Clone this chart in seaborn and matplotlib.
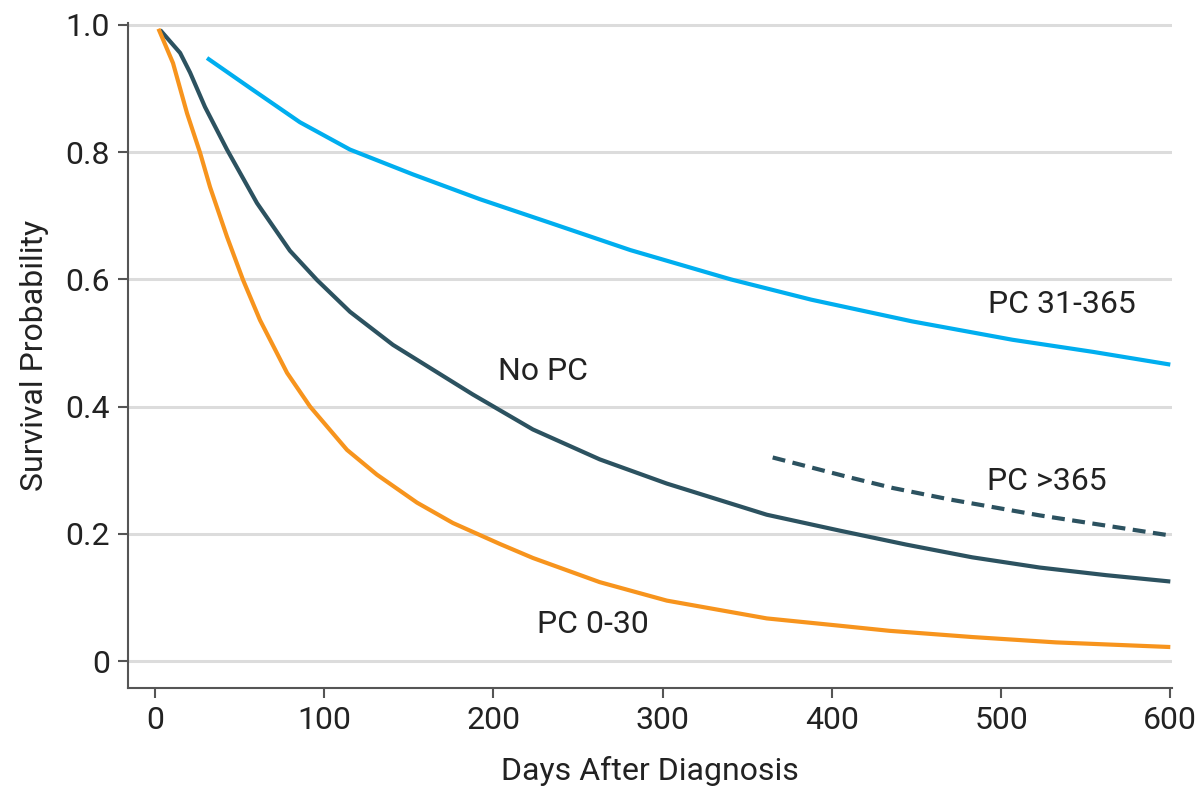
import numpy as np
import pandas as pd
import matplotlib
matplotlib.use("Agg")
import matplotlib.pyplot as plt
import seaborn as sns

# ---- data ----
nopc_days = [3, 14.8, 20.7, 29.5, 42.5, 60.2, 79.7, 95.7, 115.2, 140.6, 164.2, 187.8, 223.3,
             262.8, 302.4, 361.5, 404.6, 444, 483, 522.7, 562, 600]
nopc_surv = [0.992, 0.956, 0.925, 0.871, 0.804, 0.720, 0.645, 0.599, 0.549, 0.497, 0.458, 0.419,
             0.364, 0.317, 0.279, 0.230, 0.205, 0.183, 0.163, 0.147, 0.135, 0.125]

pc030_days = [2, 10.6, 18.9, 26.6, 32.5, 42.5, 52, 62, 78, 91.6, 113.4, 131.1, 154.8, 176, 203.8,
              223.3, 262.8, 302.4, 361.5, 404.6, 434, 483, 532.5, 600]
pc030_surv = [0.994, 0.940, 0.861, 0.799, 0.745, 0.667, 0.599, 0.536, 0.453, 0.400, 0.332, 0.293,
              0.249, 0.217, 0.184, 0.162, 0.124, 0.095, 0.067, 0.0555, 0.0475, 0.0377, 0.0293, 0.022]

pc31_days = [30.7, 56.1, 85.6, 115.2, 152.4, 192, 233.3, 280.9, 340.2, 387.9, 447.3, 506.8, 554.3, 600]
pc31_surv = [0.948, 0.901, 0.847, 0.804, 0.765, 0.726, 0.689, 0.646, 0.600, 0.568, 0.534, 0.505, 0.486, 0.466]

pc365_days = [365, 410, 436, 469.6, 522.7, 598.3]
pc365_surv = [0.320, 0.289, 0.272, 0.254, 0.229, 0.198]

x_ticks = [0, 100, 200, 300, 400, 500, 600]
y_ticks = [0, 0.2, 0.4, 0.6, 0.8, 1.0]
y_tick_labels = ["0", "0.2", "0.4", "0.6", "0.8", "1.0"]

labels = ["PC 31-365", "No PC", "PC >365", "PC 0-30"]
label_x = [536, 229, 527, 259]
label_y = [0.56, 0.455, 0.282, 0.057]

# ---- plot ----
sns.set_theme(style="white")
plt.rcParams["font.family"] = ["Roboto", "DejaVu Sans"]

fig = plt.figure(figsize=(12.04, 7.92), dpi=100)
ax = fig.add_axes([128 / 1204, 1 - 688 / 792, (1172 - 128) / 1204, (688 - 23) / 792])

c_orange = "#f7941d"
c_dark = "#2c5260"
c_blue = "#00aeef"
lw = 3.0
fs = 23

sns.lineplot(x=pc31_days, y=pc31_surv, ax=ax, color=c_blue, lw=lw)
sns.lineplot(x=nopc_days, y=nopc_surv, ax=ax, color=c_dark, lw=lw)
sns.lineplot(x=pc030_days, y=pc030_surv, ax=ax, color=c_orange, lw=lw)
sns.lineplot(x=pc365_days, y=pc365_surv, ax=ax, color=c_dark, lw=lw)
ax.lines[-1].set_dashes([3.1, 1.8])
for ln in ax.lines:
    ln.set_solid_capstyle("butt")
    ln.set_dash_capstyle("butt")
    ln.set_solid_joinstyle("round")

for t, xx, yy in zip(labels, label_x, label_y):
    ax.text(xx, yy, t, ha="center", va="center", fontsize=fs, color="#222222")

ax.set_xlim(-16, 601)
ax.set_ylim(-0.0424, 1.003)
ax.set_xticks(x_ticks)
ax.set_yticks(y_ticks)
ax.set_yticklabels(y_tick_labels)
ax.yaxis.grid(True, color="#dcdcdc", lw=2.2)
ax.set_axisbelow(True)
for s in ["top", "right"]:
    ax.spines[s].set_visible(False)
for s in ["left", "bottom"]:
    ax.spines[s].set_color("#555555")
    ax.spines[s].set_linewidth(1.5)
ax.tick_params(axis="both", direction="out", length=7, width=1.5, color="#555555",
               labelsize=fs, labelcolor="#222222", pad=6, left=True, bottom=True)
ax.set_xlabel("Days After Diagnosis", fontsize=fs, color="#222222", labelpad=15)
ax.set_ylabel("Survival Probability", fontsize=fs, color="#222222", labelpad=12)

fig.savefig("out.png", dpi=100)
